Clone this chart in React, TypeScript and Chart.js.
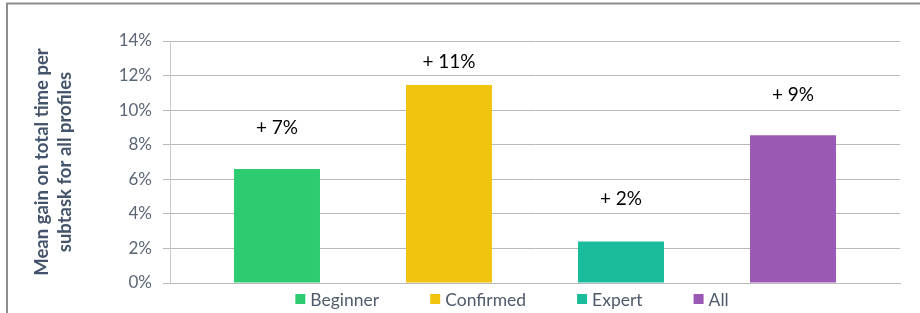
import React, { useEffect, useRef } from "react";
import { Chart, registerables } from "chart.js";

Chart.register(...registerables);

const seriesNames = ["Beginner", "Confirmed", "Expert", "All"];
const seriesValues = [6.6, 11.45, 2.4, 8.55];
const seriesLabels = ["+ 7%", "+ 11%", "+ 2%", "+ 9%"];
const seriesColors = ["#2ecc71", "#f1c40f", "#1abc9c", "#9b59b6"];
const categories = [""];
const yTitle = ["Mean gain on total time per", "subtask for all profiles"];

const FONT = "Lato, 'Open Sans', sans-serif";

const labelOffsets = [41, 23, 43, 40];

const framePlugin = {
  id: "frame",
  beforeDraw(chart: any) {
    const ctx = chart.ctx;
    ctx.save();
    ctx.strokeStyle = "#8c8c8c";
    ctx.lineWidth = 2;
    ctx.beginPath();
    ctx.moveTo(7, 313);
    ctx.lineTo(7, 3.5);
    ctx.lineTo(920, 3.5);
    ctx.stroke();
    ctx.restore();
  },
};

const barLabelPlugin = {
  id: "barLabels",
  afterDatasetsDraw(chart: any) {
    const ctx = chart.ctx;
    ctx.save();
    ctx.font = `19px ${FONT}`;
    ctx.fillStyle = "#000000";
    ctx.textAlign = "center";
    ctx.textBaseline = "middle";
    chart.data.datasets.forEach((ds: any, i: number) => {
      const meta = chart.getDatasetMeta(i);
      const el = meta.data[0];
      if (!el) return;
      ctx.fillText(seriesLabels[i], el.x, el.y - labelOffsets[i]);
    });
    ctx.restore();
  },
};

const legendPlugin = {
  id: "customLegend",
  afterDraw(chart: any) {
    const ctx = chart.ctx;
    ctx.save();
    ctx.font = `17.5px ${FONT}`;
    ctx.textBaseline = "middle";
    ctx.textAlign = "left";
    const box = 10;
    const textGap = 5;
    const itemGap = 51;
    const widths = chart.data.datasets.map((ds: any) => box + textGap + ctx.measureText(ds.label).width);
    const total = widths.reduce((a: number, b: number) => a + b, 0) + itemGap * (widths.length - 1);
    let x = 512 - total / 2;
    const cy = 299;
    chart.data.datasets.forEach((ds: any, i: number) => {
      ctx.fillStyle = ds.backgroundColor;
      ctx.fillRect(x, cy - box / 2, box, box);
      ctx.fillStyle = "#4f5b6b";
      ctx.fillText(ds.label, x + box + textGap, cy + 1);
      x += widths[i] + itemGap;
    });
    ctx.restore();
  },
};

export default function App() {
  const ref = useRef<HTMLCanvasElement>(null);
  useEffect(() => {
    if (!ref.current) return;
    const chart = new Chart(ref.current, {
      type: "bar",
      data: {
        labels: categories,
        datasets: seriesNames.map((name, i) => ({
          label: name,
          data: [seriesValues[i]],
          backgroundColor: seriesColors[i],
          borderWidth: 0,
          categoryPercentage: 0.9425,
          barPercentage: 0.5,
        })),
      },
      options: {
        responsive: false,
        animation: false,
        layout: { padding: { top: 41, right: 20, left: 0, bottom: 0 } },
        plugins: {
          legend: { display: false },
          tooltip: { enabled: false },
          title: { display: false },
        },
        scales: {
          x: {
            ticks: { display: false },
            grid: { display: false },
            border: { display: true, color: "#b8b8b8", width: 1 },
            afterFit(scale: any) {
              scale.height = 30;
            },
          },
          y: {
            min: 0,
            max: 14,
            ticks: {
              stepSize: 2,
              padding: 11,
              color: "#5b6676",
              font: { family: FONT, size: 17 },
              callback: (v: any) => v + "%",
            },
            grid: { color: "#b8b8b8", lineWidth: 1, tickLength: 7 },
            border: { display: true, color: "#c8c8c8", width: 1 },
            title: {
              display: true,
              text: yTitle,
              color: "#44546a",
              font: { family: FONT, size: 18.5, weight: "bold", lineHeight: 1.25 },
              padding: { top: 30, bottom: 0 },
            },
            afterFit(scale: any) {
              scale.width = 170;
            },
          },
        },
      },
      plugins: [framePlugin, barLabelPlugin, legendPlugin],
    });
    return () => chart.destroy();
  }, []);
  return (
    <div style={{ position: "absolute", left: 0, top: 0, width: 920, height: 313, background: "#ffffff" }}>
      <canvas ref={ref} width={920} height={313} style={{ width: 920, height: 313, display: "block" }} />
    </div>
  );
}
